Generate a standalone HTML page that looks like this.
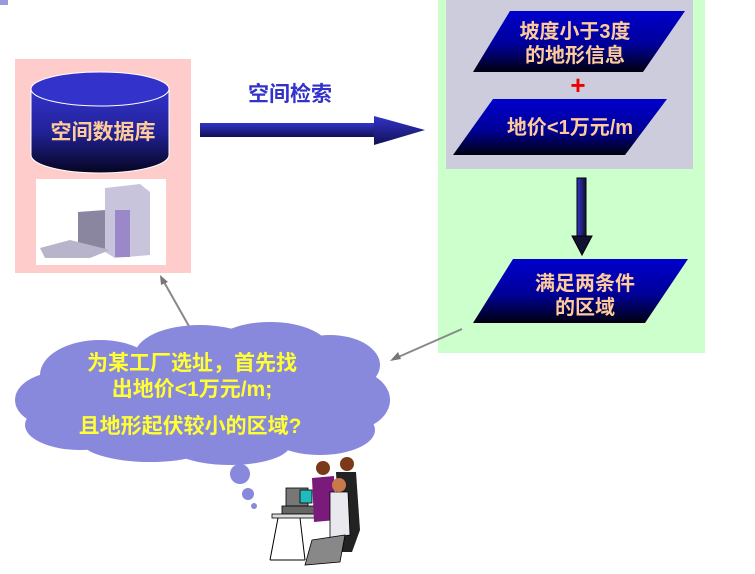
<!DOCTYPE html>
<html><head><meta charset="utf-8"><style>
html,body{margin:0;padding:0;background:#fff;}
svg{display:block;}
text{font-family:"Liberation Sans","Noto Sans CJK SC",sans-serif;font-weight:bold;}
</style></head><body>
<svg width="755" height="574" viewBox="0 0 755 574" xmlns="http://www.w3.org/2000/svg">
<defs>
<linearGradient id="pg" x1="0" y1="0" x2="0" y2="1"><stop offset="0" stop-color="#0000cc"/><stop offset="0.55" stop-color="#000099"/><stop offset="1" stop-color="#000010"/></linearGradient>
<linearGradient id="cg" x1="0" y1="0" x2="0" y2="1"><stop offset="0" stop-color="#3333cc"/><stop offset="0.5" stop-color="#222299"/><stop offset="1" stop-color="#050520"/></linearGradient>
<linearGradient id="ag" x1="0" y1="0" x2="0" y2="1"><stop offset="0" stop-color="#3333cc"/><stop offset="1" stop-color="#111155"/></linearGradient>
<linearGradient id="dg" x1="0" y1="0" x2="1" y2="0"><stop offset="0" stop-color="#3333cc"/><stop offset="1" stop-color="#111133"/></linearGradient>
</defs>
<rect x="0" y="0" width="8" height="5" fill="#9999dd"/>
<rect x="15" y="59" width="176" height="214" fill="#ffcccc"/>
<path d="M31,89 L31,155 A69,18 0 0 0 169,155 L169,89 Z" fill="url(#cg)" stroke="#fff" stroke-width="1"/>
<ellipse cx="100" cy="89" rx="69" ry="17" fill="#3333cc" stroke="#fff" stroke-width="1"/>
<text x="103" y="139" font-size="21" fill="#ffcc99" text-anchor="middle">空间数据库</text>
<rect x="36" y="179" width="130" height="86" fill="#fff"/>
<path d="M105,188 L140,184 L150,192 L150,255 L115,258 L105,252 Z" fill="#c8c4dc"/>
<rect x="115" y="210" width="15" height="47" fill="#9a88c8"/>
<path d="M78,212 L105,210 L105,250 L78,250 Z" fill="#8a86a0"/>
<path d="M40,248 L70,240 L110,250 L90,258 L45,258 Z" fill="#b8b4cc"/>
<rect x="200" y="123" width="176" height="14" fill="url(#ag)"/>
<polygon points="374,116 425,130 374,145" fill="url(#ag)"/>
<text x="290" y="101" font-size="21" fill="#3333cc" text-anchor="middle">空间检索</text>
<rect x="438" y="0" width="267" height="353" fill="#ccffcc"/>
<rect x="446" y="0" width="247" height="169" fill="#ccccdd"/>
<polygon points="510,11 685,11 643,72 473,72" fill="url(#pg)"/>
<text x="575" y="38" font-size="20" fill="#ffcc99" text-anchor="middle">坡度小于3度</text>
<text x="575" y="62" font-size="20" fill="#ffcc99" text-anchor="middle">的地形信息</text>
<text x="578" y="94" font-size="26" fill="#ee0000" text-anchor="middle">+</text>
<polygon points="493,99 667,99 625,155 453,155" fill="url(#pg)"/>
<text x="570" y="134" font-size="20" fill="#ffcc99" text-anchor="middle">地价&lt;1万元/m</text>
<rect x="577" y="178" width="9" height="59" fill="url(#dg)" stroke="#000" stroke-width="1"/>
<polygon points="572,236 592,236 582,255" fill="#111133" stroke="#000"/>
<polygon points="513,259 688,259 645,323 473,323" fill="url(#pg)"/>
<text x="585" y="290" font-size="20" fill="#ffcc99" text-anchor="middle">满足两条件</text>
<text x="585" y="314" font-size="20" fill="#ffcc99" text-anchor="middle">的区域</text>
<line x1="462" y1="329" x2="396" y2="358" stroke="#888" stroke-width="2"/>
<polygon points="390,361 398,352 401,359" fill="#777"/>
<line x1="190" y1="328" x2="164" y2="282" stroke="#888" stroke-width="2"/>
<polygon points="160,275 168,282 161,285" fill="#777"/>
<g fill="#8888dd">
<ellipse cx="100" cy="375" rx="60" ry="35"/>
<ellipse cx="60" cy="400" rx="45" ry="28"/>
<ellipse cx="80" cy="425" rx="55" ry="25"/>
<ellipse cx="150" cy="440" rx="70" ry="22"/>
<ellipse cx="230" cy="445" rx="60" ry="20"/>
<ellipse cx="200" cy="355" rx="65" ry="30"/>
<ellipse cx="270" cy="350" rx="60" ry="28"/>
<ellipse cx="330" cy="365" rx="50" ry="30"/>
<ellipse cx="350" cy="400" rx="40" ry="30"/>
<ellipse cx="320" cy="430" rx="55" ry="25"/>
<ellipse cx="200" cy="400" rx="150" ry="45"/>
</g>
<text x="192" y="370" font-size="21" fill="#ffff33" text-anchor="middle">为某工厂选址，首先找</text>
<text x="192" y="396" font-size="21" fill="#ffff33" text-anchor="middle">出地价&lt;1万元/m;</text>
<text x="190" y="433" font-size="21" fill="#ffff33" text-anchor="middle">且地形起伏较小的区域?</text>
<circle cx="240" cy="474" r="10" fill="#8888dd"/>
<circle cx="248" cy="494" r="6" fill="#8888dd"/>
<circle cx="254" cy="506" r="3" fill="#8888dd"/>
<g>
<rect x="286" y="488" width="22" height="18" fill="#777" stroke="#000" stroke-width="0.8"/>
<rect x="300" y="490" width="12" height="13" fill="#22bbbb" stroke="#000" stroke-width="0.8"/>
<rect x="282" y="506" width="40" height="8" fill="#666" stroke="#000" stroke-width="0.8"/>
<rect x="272" y="514" width="60" height="4" fill="#ddd" stroke="#000" stroke-width="0.8"/>
<path d="M278,518 L270,560 M300,518 L305,560 M270,560 L305,560" stroke="#000" fill="none"/>
<path d="M312,478 L334,476 L336,520 L314,522 Z" fill="#7a1a7a"/>
<circle cx="323" cy="468" r="7" fill="#7a3a1a"/>
<path d="M336,472 L356,472 L360,530 L352,552 L340,552 Z" fill="#222"/>
<circle cx="347" cy="464" r="7" fill="#7a3a1a"/>
<path d="M330,492 L348,492 L350,535 L330,538 Z" fill="#e8e8ee" stroke="#000" stroke-width="0.8"/>
<circle cx="339" cy="485" r="7" fill="#c87a4a"/>
<path d="M312,540 L345,535 L340,562 L305,565 Z" fill="#888" stroke="#000" stroke-width="0.8"/>
</g>
</svg>
</body></html>
